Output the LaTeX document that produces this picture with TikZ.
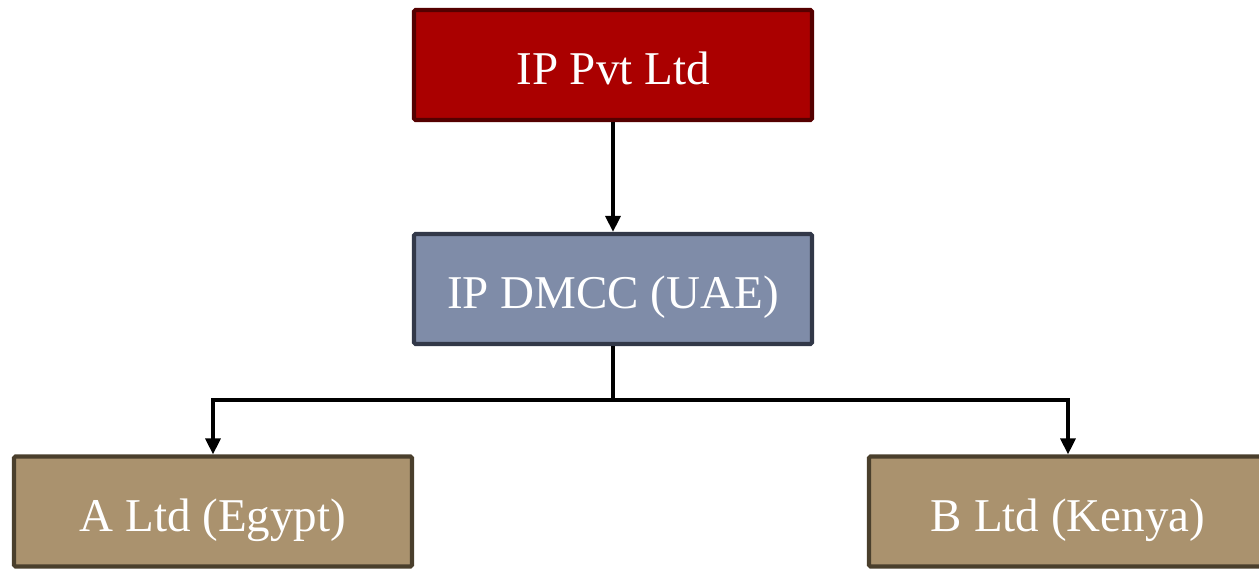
\documentclass[tikz,border=0pt]{standalone}
\usepackage{fontspec}
\setmainfont{Liberation Serif}
\usetikzlibrary{arrows.meta}
\definecolor{topfill}{HTML}{AA0000}
\definecolor{topline}{HTML}{550000}
\definecolor{midfill}{HTML}{7F8CA8}
\definecolor{midline}{HTML}{323848}
\definecolor{subfill}{HTML}{AA926E}
\definecolor{subline}{HTML}{4A3F2C}
\tikzset{
  x=1pt, y=-1pt,
  entity/.style={draw, line width=4.2pt, rounded corners=1.5pt, minimum width=398pt,
    minimum height=110pt, inner sep=0pt, text=white,
    text height=45pt, text depth=6pt,
    font=\fontsize{47}{50}\selectfont},
  link/.style={line width=3.2pt, -{Triangle[length=16pt,width=15pt]}},
  wire/.style={line width=3.2pt}
}
\begin{document}
\begin{tikzpicture}
\useasboundingbox (0,0) rectangle (1259,569);
\clip (0,0) rectangle (1259,569);
\node[entity, fill=topfill, draw=topline] (top) at (613,65) {IP Pvt Ltd};
\node[entity, fill=midfill, draw=midline] (mid) at (613,289) {IP DMCC (UAE)};
\node[entity, fill=subfill, draw=subline] (a) at (213,511.5) {A Ltd (Egypt)};
\node[entity, fill=subfill, draw=subline] (b) at (1068,511.5) {B Ltd (Kenya)};
\coordinate (split) at (613,400);
\draw[link] (top.south) -- (mid.north);
\draw[wire] (mid.south) -- (split);
\draw[link] (split) -| (a.north);
\draw[link] (split) -| (b.north);
\end{tikzpicture}
\end{document}
